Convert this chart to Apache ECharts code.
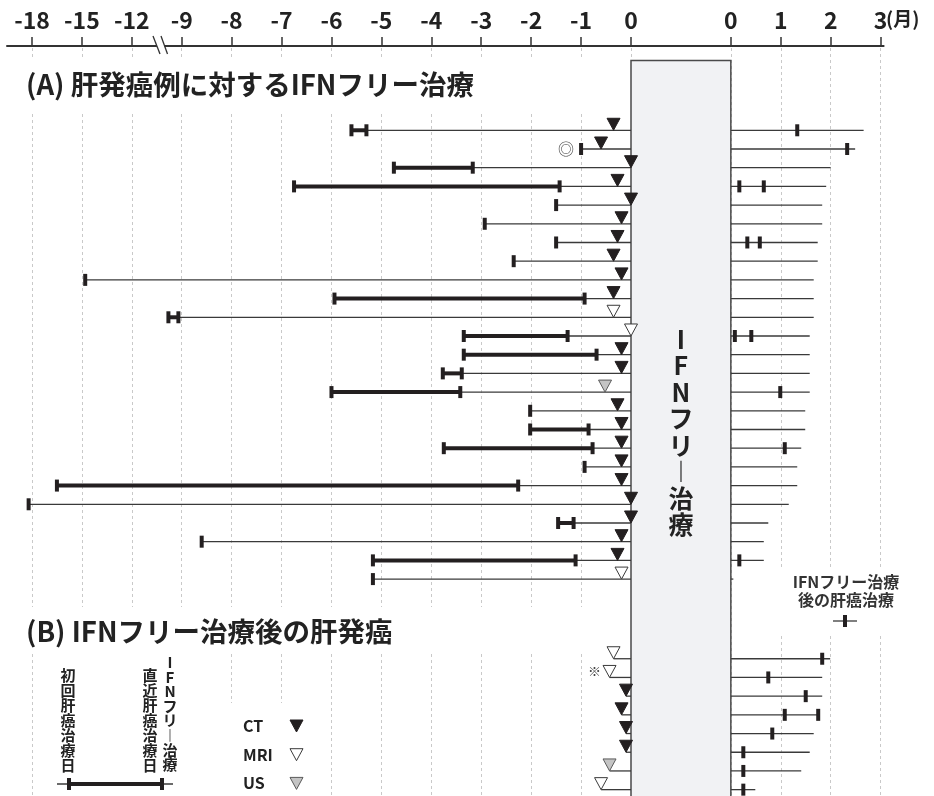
<!DOCTYPE html>
<html lang="ja">
<head>
<meta charset="utf-8">
<script src="https://cdn.jsdelivr.net/npm/echarts@6.0.0/dist/echarts.min.js"></script>
<style>
html,body{margin:0;padding:0;background:#fff;}
#chart{width:934px;height:796px;}
</style>
</head>
<body>
<div id="chart"></div>
<script>
// ===== Data: months relative to the start of IFN-free therapy =====
const preTicks  = [-18, -15, -12, -9, -8, -7, -6, -5, -4, -3, -2, -1, 0];
const postTicks = [0, 1, 2, 3];

// (A) 肝発癌例に対するIFNフリー治療
const firstTxA   = [-5.6, -1.0, -4.75, -6.75, -1.5, -2.93, -1.5, -2.35, -14.8, -5.94, -9.8, -3.35, -3.35, -3.77, -6.0, -2.02, -2.02, -3.75, -0.93, -16.5, -18.2, -1.46, -8.6, -5.17, -5.17];
const lastTxA    = [-5.3, null, -3.17, -1.43, null, null, null, null, null, -0.93, -9.2, -1.27, -0.69, -3.39, -3.42, null, -0.85, -0.77, null, -2.26, null, -1.15, null, -1.11, null];
const imgMonthA  = [-0.35, -0.6, 0, -0.27, 0, -0.19, -0.27, -0.35, -0.19, -0.35, -0.35, 0, -0.19, -0.19, -0.52, -0.27, -0.19, -0.19, -0.19, -0.19, 0, 0, -0.19, -0.27, -0.19];
const imgTypeA   = ['CT','CT','CT','CT','CT','CT','CT','CT','CT','CT','MRI','MRI','CT','CT','US','CT','CT','CT','CT','CT','CT','CT','CT','CT','MRI'];
const followEndA = [2.66, 2.49, 2.0, 1.91, 1.83, 1.83, 1.74, 1.74, 1.66, 1.66, 1.66, 1.58, 1.58, 1.58, 1.58, 1.49, 1.49, 1.41, 1.33, 1.33, 1.16, 0.75, 0.66, 0.66, 0.05];
const postTxA    = [[1.33],[2.33],[],[0.17,0.66],[],[],[0.33,0.58],[],[],[],[],[0.08,0.41],[],[],[0.99],[],[],[1.08],[],[],[],[],[],[0.17],[]];
const notesA     = [[1, '◎']];

// (B) IFNフリー治療後の肝発癌
const imgMonthB  = [-0.35, -0.43, -0.1, -0.19, -0.1, -0.1, -0.43, -0.6];
const imgTypeB   = ['MRI','MRI','CT','CT','CT','CT','US','MRI'];
const followEndB = [1.99, 1.83, 1.83, 1.77, 1.66, 1.58, 1.41, 0.49];
const postTxB    = [[1.83],[0.75],[1.5],[1.08,1.75],[0.83],[0.25],[0.25],[0.25]];
const notesB     = [[1, '※']];

// Text
const titleA = '(A) 肝発癌例に対するIFNフリー治療';
const titleB = '(B) IFNフリー治療後の肝発癌';
const boxLabel = ['I','F','N','フ','リ','︱','治','療'];
const postLabel = ['IFNフリー治療', '後の肝癌治療'];
const legFirst = ['初','回','肝','癌','治','療','日'];
const legLast  = ['直','近','肝','癌','治','療','日'];
const legIFN   = ['I','F','N','フ','リ','︱','治','療'];
const modalities = ['CT','MRI','US'];

// ===== Layout / style =====
const BOX_W = 2;            // width of the IFN-free therapy box, axis units
const B_START = 28.26;      // row position of first (B) row
const Y_MIN = -4.4, Y_MAX = 35.6, BOX_TOP = -3.73;
const INK = '#231f20', THIN = '#3a3a3a';
const FONT = '"Noto Sans CJK JP","Noto Sans",sans-serif';
const TRI_W = 13, TRI_H = 12, TICK_W = 4, TICK_H = 12;
const triStyle = {
  CT:  {fill: INK, stroke: INK, lineWidth: 1},
  MRI: {fill: '#fff', stroke: '#3a3a3a', lineWidth: 1},
  US:  {fill: '#c4c4c4', stroke: '#5a5a5a', lineWidth: 1}
};

function preU(m){ return m >= -9 ? m : -9 + (m + 9) / 3; }
function postU(m){ return m + BOX_W; }

const tickU = preTicks.map(preU).concat(postTicks.map(postU));
const labelMap = {};
preTicks.forEach(m => { labelMap[preU(m).toFixed(3)] = String(m); });
postTicks.forEach(m => { labelMap[postU(m).toFixed(3)] = String(m); });

function seg(x1, y1, x2, y2, w, c){
  return {type:'line', shape:{x1, y1, x2, y2}, style:{stroke: c || THIN, lineWidth: w || 1.3}};
}
function tick(x, y){
  return {type:'rect', shape:{x: x - TICK_W/2, y: y - TICK_H/2, width: TICK_W, height: TICK_H}, style:{fill: INK}};
}
function tri(x, y, t){
  return {type:'polygon', shape:{points:[[x - TRI_W/2, y - TRI_H], [x + TRI_W/2, y - TRI_H], [x, y]]}, style: triStyle[t]};
}
function txt(s, x, y, size, extra){
  return {type:'text', style: Object.assign({
    text: s, x, y, fill:'#222', fontSize: size, fontWeight:'bold', fontFamily: FONT,
    align:'center', textAlign:'center', verticalAlign:'middle', textVerticalAlign:'middle'
  }, extra || {})};
}

function renderA(params, api){
  const i = params.dataIndex;
  const r = api.value(1);
  const y = api.coord([0, r])[1];
  const X = u => api.coord([u, r])[0];
  const c = [];
  const xf = X(preU(firstTxA[i])), x0 = X(preU(0)), xr0 = X(postU(0));
  c.push(seg(xf, y, x0, y));
  c.push(seg(xr0, y, X(postU(followEndA[i])), y));
  if (lastTxA[i] !== null){
    const xl = X(preU(lastTxA[i]));
    c.push(seg(xf, y, xl, y, 4, INK));
    c.push(tick(xl, y));
  }
  c.push(tick(xf, y));
  postTxA[i].forEach(m => c.push(tick(X(postU(m)), y)));
  c.push(tri(X(preU(imgMonthA[i])), y, imgTypeA[i]));
  notesA.forEach(([ri, s]) => { if (ri === i) c.push(txt(s, xf - 15, y, 16, {fontWeight:'normal', fill:'#444'})); });
  return {type:'group', children: c};
}

function renderB(params, api){
  const j = params.dataIndex;
  const r = api.value(1);
  const y = api.coord([0, r])[1];
  const X = u => api.coord([u, r])[0];
  const c = [];
  const xi = X(preU(imgMonthB[j])), x0 = X(preU(0)), xr0 = X(postU(0));
  c.push(seg(xi, y, x0, y));
  c.push(seg(xr0, y, X(postU(followEndB[j])), y));
  postTxB[j].forEach(m => c.push(tick(X(postU(m)), y)));
  c.push(tri(xi, y, imgTypeB[j]));
  notesB.forEach(([ri, s]) => { if (ri === j) c.push(txt(s, xi - 15, y - 6, 13, {fontWeight:'normal', fill:'#444'})); });
  return {type:'group', children: c};
}

function renderBox(params, api){
  const tl = api.coord([preU(0), BOX_TOP]);
  const br = api.coord([postU(0), Y_MAX]);
  const cx = (tl[0] + br[0]) / 2;
  return {type:'group', children:[
    {type:'rect', shape:{x: tl[0], y: tl[1], width: br[0] - tl[0], height: br[1] - tl[1] + 10},
     style:{fill:'#f1f2f4', stroke:'#4a4a4a', lineWidth:1.5}},
    txt(boxLabel.join('\n'), cx, 326, 25, {verticalAlign:'top', textVerticalAlign:'top', lineHeight:26.5, fill:'#222'})
  ]};
}

const chart = echarts.init(document.getElementById('chart'), null, {renderer:'canvas'});

const whiteRects = [[8,57,607,55],[8,607,592,45],[45,652,170,144],[220,703,90,93],[738,568,196,67]];
const graphics = [];
whiteRects.forEach(([x,y,w,h]) => graphics.push({type:'rect', z:1, shape:{x,y,width:w,height:h}, style:{fill:'#fff'}}));
graphics.push({type:'text', z:6, style:{text:titleA, x:26, y:85, fontSize:27.5, fontWeight:'bold', fontFamily:FONT, fill:'#222', verticalAlign:'middle', textVerticalAlign:'middle'}});
graphics.push({type:'text', z:6, style:{text:titleB, x:26, y:632, fontSize:27.5, fontWeight:'bold', fontFamily:FONT, fill:'#222', verticalAlign:'middle', textVerticalAlign:'middle'}});
graphics.push({type:'text', z:6, style:{text:'(月)', x:886, y:19, fontSize:19, fontWeight:'bold', fontFamily:FONT, fill:'#222', verticalAlign:'middle', textVerticalAlign:'middle'}});
// right label
graphics.push(Object.assign(txt(postLabel.join('\n'), 846, 591, 16, {lineHeight:18.5, fill:'#333'}), {z:6}));
graphics.push(Object.assign(seg(833, 621, 857, 621, 1.3), {z:6}));
graphics.push(Object.assign(tick(845, 621), {z:6}));
// bottom-left legend
graphics.push(Object.assign(txt(legFirst.join('\n'), 68, 668, 15, {lineHeight:15, verticalAlign:'top', textVerticalAlign:'top'}), {z:6}));
graphics.push(Object.assign(txt(legLast.join('\n'), 150, 668, 15, {lineHeight:15, verticalAlign:'top', textVerticalAlign:'top'}), {z:6}));
graphics.push(Object.assign(txt(legIFN.join('\n'), 170, 655, 15, {lineHeight:14.6, verticalAlign:'top', textVerticalAlign:'top'}), {z:6}));
graphics.push(Object.assign(seg(57, 784, 173, 784, 1.3), {z:6}));
graphics.push(Object.assign(seg(69, 784, 162, 784, 4, INK), {z:6}));
graphics.push(Object.assign(tick(69, 784), {z:6}));
graphics.push(Object.assign(tick(162, 784), {z:6}));
modalities.forEach((m, k) => {
  const y = 726 + k * 28.7;
  graphics.push(Object.assign(txt(m, 243, y, 16, {align:'left', textAlign:'left'}), {z:6}));
  graphics.push(Object.assign(tri(296.5, y + 6, m), {z:6}));
});
// axis break marks
const bx = 160;
graphics.push({type:'polygon', z:6, shape:{points:[[bx-6,38],[bx+1.5,38],[bx+7,53],[bx-0.5,53]]}, style:{fill:'#fff'}});
graphics.push({type:'line', z:7, shape:{x1:bx-7, y1:36, x2:bx, y2:54}, style:{stroke:'#333', lineWidth:1.3}});
graphics.push({type:'line', z:7, shape:{x1:bx+1, y1:36, x2:bx+7.5, y2:54}, style:{stroke:'#333', lineWidth:1.3}});

const option = {
  animation: false,
  grid: {left: 7, right: 50.4, top: 48, bottom: 0, outerBoundsMode: 'none', containLabel: false},
  xAxis: {
    type: 'value', position: 'top', min: -12.5, max: 5.06, offset: 2,
    axisLine: {show: true, onZero: false, lineStyle: {color: '#333', width: 2}},
    axisTick: {show: true, length: 9, customValues: tickU, lineStyle: {color: '#333', width: 1.5}},
    axisLabel: {customValues: tickU, formatter: v => labelMap[Number(v).toFixed(3)] || '',
      fontSize: 23, fontWeight: 'bold', fontFamily: FONT, color: '#222', margin: 14},
    splitLine: {show: true, lineStyle: {type: [3, 3], color: '#c9c9c9', width: 1}}
  },
  yAxis: {type: 'value', inverse: true, min: Y_MIN, max: Y_MAX, show: false},
  graphic: {elements: graphics},
  series: [
    {type: 'custom', coordinateSystem: 'cartesian2d', z: 3, silent: true, clip: false,
     data: [[0, 0]], renderItem: renderBox},
    {type: 'custom', coordinateSystem: 'cartesian2d', z: 5, silent: true, clip: false,
     data: firstTxA.map((_, i) => [0, i]), renderItem: renderA},
    {type: 'custom', coordinateSystem: 'cartesian2d', z: 5, silent: true, clip: false,
     data: imgMonthB.map((_, j) => [0, B_START + j]), renderItem: renderB}
  ]
};
chart.setOption(option);
</script>
</body>
</html>
